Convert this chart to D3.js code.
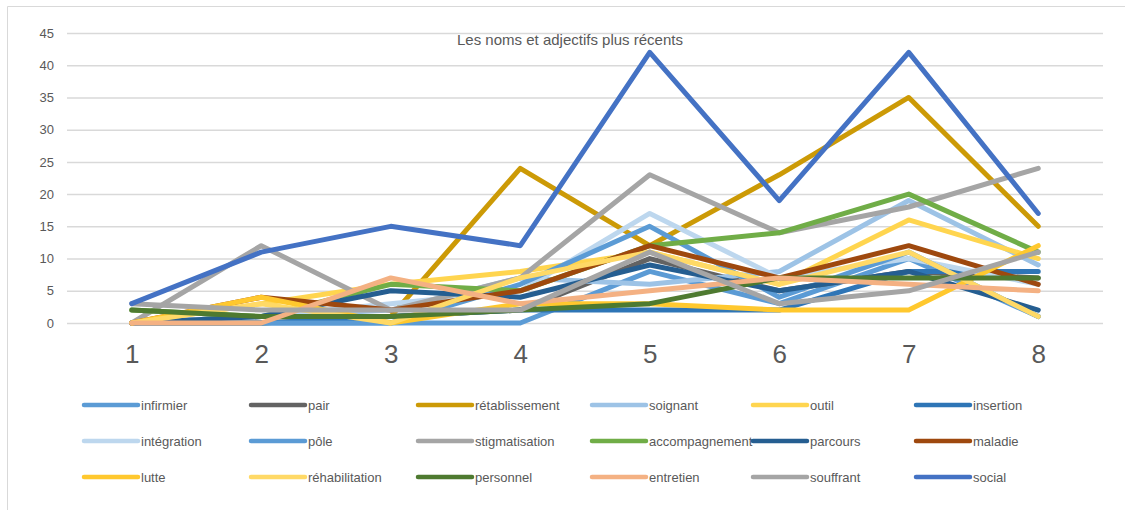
<!DOCTYPE html>
<html>
<head>
<meta charset="utf-8">
<script src="https://cdn.jsdelivr.net/npm/d3@7"></script>
<style>
  body { margin: 0; background: #fff; }
  text { font-family: "Liberation Sans", Arial, sans-serif; fill: #595959; }
</style>
</head>
<body>
<div class="chart-container"></div>
<script>
var w = 1125;
var h = 510;

// data
var categories = ["1", "2", "3", "4", "5", "6", "7", "8"];
var yTicks = [0, 5, 10, 15, 20, 25, 30, 35, 40, 45];
var seriesNames = ["infirmier", "pair", "rétablissement", "soignant", "outil", "insertion",
  "intégration", "pôle", "stigmatisation", "accompagnement", "parcours", "maladie",
  "lutte", "réhabilitation", "personnel", "entretien", "souffrant", "social"];
var seriesColors = ["#5B9BD5", "#636363", "#CC9A06", "#9DC3E6", "#FFD54F", "#2E75B6",
  "#BDD7EE", "#5B9BD5", "#A5A5A5", "#70AD47", "#255E91", "#9E480E",
  "#FFC82E", "#FFD966", "#4E7A30", "#F4B183", "#A5A5A5", "#4472C4"];

var infirmier      = [0, 0, 0, 0, 8, 3, 10, 1];
var pair           = [0, 1, 1, 2, 10, 5, 8, 7];
var retablissement = [0, 0, 1, 24, 12, 23, 35, 15];
var soignant       = [0, 1, 2, 7, 6, 8, 19, 9];
var outil          = [0, 3, 6, 8, 11, 6, 16, 10];
var insertion      = [0, 0, 1, 2, 2, 2, 8, 8];
var integration    = [0, 1, 3, 5, 17, 7, 10, 6];
var pole           = [0, 0, 0, 6, 15, 4, 11, 1];
var stigmatisation = [0, 12, 2, 7, 23, 14, 18, 24];
var accompagnement = [2, 1, 6, 5, 12, 14, 20, 11];
var parcours       = [0, 1, 5, 4, 9, 5, 8, 2];
var maladie        = [0, 4, 2, 5, 12, 7, 12, 6];
var lutte          = [0, 4, 0, 3, 3, 2, 2, 12];
var rehabilitation = [0, 3, 0, 7, 11, 6, 11, 1];
var personnel      = [2, 1, 1, 2, 3, 7, 7, 7];
var entretien      = [0, 0, 7, 3, 5, 7, 6, 5];
var souffrant      = [3, 2, 2, 2, 11, 3, 5, 11];
var social         = [3, 11, 15, 12, 42, 19, 42, 17];

var seriesValues = [infirmier, pair, retablissement, soignant, outil, insertion,
  integration, pole, stigmatisation, accompagnement, parcours, maladie,
  lutte, rehabilitation, personnel, entretien, souffrant, social];

var data = seriesNames.map(function(name, i) {
  return { name: name, color: seriesColors[i], values: seriesValues[i] };
});

var plotLeft = 67, plotRight = 1103, plotTop = 33, plotBottom = 323;

var svg = d3.select(".chart-container")
  .append("svg")
  .attr("width", w)
  .attr("height", h);

// outer frame
svg.append("path")
  .attr("d", "M7.5," + (h + 2) + "V6.5H" + (w + 2))
  .attr("fill", "none")
  .attr("stroke", "#d9d9d9")
  .attr("stroke-width", 1);

var xScale = d3.scalePoint()
  .domain(categories)
  .range([plotLeft, plotRight])
  .padding(0.5);

var yScale = d3.scaleLinear()
  .domain([0, 45])
  .range([plotBottom, plotTop]);

// gridlines + y labels
var yAxis = d3.axisLeft(yScale)
  .tickValues(yTicks)
  .tickSize(-(plotRight - plotLeft))
  .tickPadding(13);

svg.append("g")
  .attr("transform", "translate(" + plotLeft + ",0)")
  .call(yAxis)
  .call(function(g) { g.select(".domain").remove(); })
  .call(function(g) {
    g.selectAll("line").attr("stroke", "#d9d9d9").attr("stroke-width", 1.5);
    g.selectAll("text").attr("font-size", "13px").style("font-family", "'Liberation Sans', Arial, sans-serif").attr("fill", "#595959");
  });

// category labels
var xAxis = d3.axisBottom(xScale).tickSize(0).tickPadding(22);

svg.append("g")
  .attr("transform", "translate(0," + plotBottom + ")")
  .call(xAxis)
  .call(function(g) { g.select(".domain").remove(); })
  .call(function(g) {
    g.selectAll("text").attr("font-size", "26px").style("font-family", "'Liberation Sans', Arial, sans-serif").attr("fill", "#595959");
  });

// title
svg.append("text")
  .attr("x", 570)
  .attr("y", 45)
  .attr("text-anchor", "middle")
  .attr("font-size", "15px")
  .text("Les noms et adjectifs plus récents");

var line = d3.line()
  .x(function(d, i) { return xScale(categories[i]); })
  .y(function(d) { return yScale(d); });

svg.append("g")
  .selectAll("path")
  .data(data)
  .enter()
  .append("path")
  .attr("d", function(d) { return line(d.values); })
  .attr("fill", "none")
  .attr("stroke", function(d) { return d.color; })
  .attr("stroke-width", 5)
  .attr("stroke-linecap", "round")
  .attr("stroke-linejoin", "round");

// legend, 6 columns x 3 rows
var colX = [84, 251, 418, 592, 753, 916];
var rowY = [405, 441, 477];

var legend = svg.append("g")
  .selectAll("g")
  .data(data)
  .enter()
  .append("g")
  .attr("transform", function(d, i) {
    return "translate(" + colX[i % 6] + "," + rowY[Math.floor(i / 6)] + ")";
  });

legend.append("line")
  .attr("x1", 0)
  .attr("x2", 54)
  .attr("stroke", function(d) { return d.color; })
  .attr("stroke-width", 4.5)
  .attr("stroke-linecap", "round");

legend.append("text")
  .attr("x", 57)
  .attr("dy", "0.35em")
  .attr("font-size", "13px")
  .text(function(d) { return d.name; });
</script>
</body>
</html>
